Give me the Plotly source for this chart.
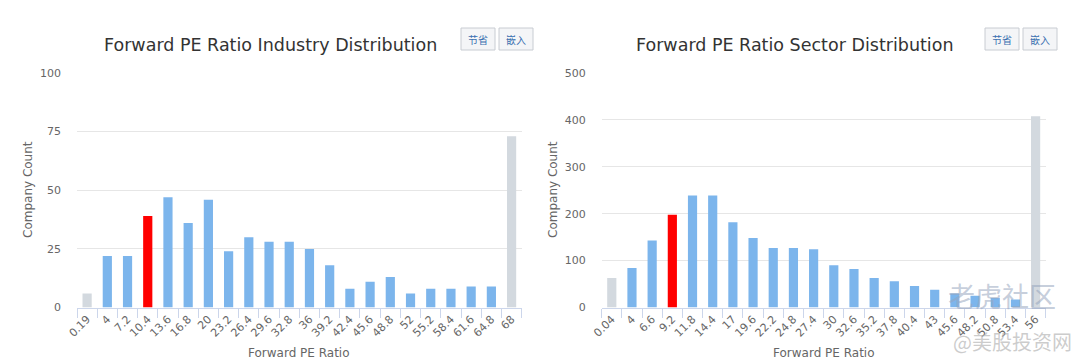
import plotly.graph_objects as go

# ---------------- data ----------------
industry_bins = ["0.19", "4", "7.2", "10.4", "13.6", "16.8", "20", "23.2", "26.4", "29.6", "32.8",
                 "36", "39.2", "42.4", "45.6", "48.8", "52", "55.2", "58.4", "61.6", "64.8", "68"]
industry_counts = [6, 22, 22, 39, 47, 36, 46, 24, 30, 28, 28, 25, 18, 8, 11, 13, 6, 8, 8, 9, 9, 73]
industry_highlight = "10.4"

sector_bins = ["0.04", "4", "6.6", "9.2", "11.8", "14.4", "17", "19.6", "22.2", "24.8", "27.4",
               "30", "32.6", "35.2", "37.8", "40.4", "43", "45.6", "48.2", "50.8", "53.4", "56"]
sector_counts = [63, 84, 143, 198, 239, 239, 182, 148, 127, 127, 124, 90, 82, 63, 56, 46, 38, 30, 25,
                 20, 17, 408]
sector_highlight = "9.2"

industry_ticks = [0, 25, 50, 75, 100]
sector_ticks = [0, 100, 200, 300, 400, 500]

titles = ["Forward PE Ratio Industry Distribution", "Forward PE Ratio Sector Distribution"]
x_title = "Forward PE Ratio"
y_title = "Company Count"
buttons = ["节省", "嵌入"]

# ---------------- styling ----------------
BLUE = "#7cb5ec"
RED = "#ff0000"
GRAY = "#d3d9df"
FONT = "DejaVu Sans"
W, H = 1080, 362
OFF = 8  # page body margin


def colors_for(bins, highlight):
    cols = []
    for i, b in enumerate(bins):
        if i == 0 or i == len(bins) - 1:
            cols.append(GRAY)
        elif b == highlight:
            cols.append(RED)
        else:
            cols.append(BLUE)
    return cols


def px(x):
    return (x - OFF) / W


def py(y):
    return 1 - (y - OFF) / H


fig = go.Figure()
fig.add_trace(go.Bar(x=industry_bins, y=industry_counts, marker_color=colors_for(industry_bins, industry_highlight),
                     marker_line_width=0, xaxis="x", yaxis="y", showlegend=False))
fig.add_trace(go.Bar(x=sector_bins, y=sector_counts, marker_color=colors_for(sector_bins, sector_highlight),
                     marker_line_width=0, xaxis="x2", yaxis="y2", showlegend=False))

plot_top, plot_bot = 73, 307.5
doms = [(77, 521.7), (601.7, 1045.7)]

xcommon = dict(type="category", tickangle=-45, ticks="outside", tickson="boundaries", ticklen=9,
               tickcolor="#ccd6eb", showline=True, linecolor="#ccd6eb", linewidth=1, showgrid=False,
               tickfont=dict(family=FONT, size=11, color="#666666"), zeroline=False, fixedrange=True,
               automargin=False)
ycommon = dict(showgrid=True, gridcolor="#e6e6e6", gridwidth=1, zeroline=False, showline=False,
               tickfont=dict(family=FONT, size=11, color="#666666"), ticks="", fixedrange=True,
               automargin=False, ticklabelstandoff=15)

fig.update_layout(
    template="none",
    width=W, height=H, margin=dict(l=0, r=0, t=0, b=0, pad=0),
    paper_bgcolor="white", plot_bgcolor="white", bargap=0.545,
    xaxis=dict(domain=[px(doms[0][0]), px(doms[0][1])], anchor="y", range=[-0.5, 21.5], **xcommon),
    xaxis2=dict(domain=[px(doms[1][0]), px(doms[1][1])], anchor="y2", range=[-0.5, 21.5], **xcommon),
    yaxis=dict(domain=[py(plot_bot), py(plot_top)], anchor="x", range=[0, 100], tickvals=industry_ticks, **ycommon),
    yaxis2=dict(domain=[py(plot_bot), py(plot_top)], anchor="x2", range=[0, 500], tickvals=sector_ticks, **ycommon),
    font=dict(family=FONT),
)

ann = []
title_cx = [270, 794.5]
for i in range(2):
    ann.append(dict(text=titles[i], x=px(title_cx[i]), y=py(45), xref="paper", yref="paper",
                    showarrow=False, xanchor="center", yanchor="middle",
                    font=dict(family=FONT, size=17.5, color="#333333")))
    cx = (doms[i][0] + doms[i][1]) / 2
    ann.append(dict(text=x_title, x=px(cx), y=py(353), xref="paper", yref="paper", showarrow=False,
                    xanchor="center", yanchor="middle", font=dict(family=FONT, size=12, color="#666666")))
    ann.append(dict(text=y_title, x=px(28 + 525 * i), y=py(190), xref="paper", yref="paper", showarrow=False,
                    textangle=-90, xanchor="center", yanchor="middle",
                    font=dict(family=FONT, size=12, color="#666666")))

# buttons
btn_pos = [[(461, 495), (499, 533)], [(985, 1019), (1023, 1057)]]
shapes = []
for i in range(2):
    for j, (x0, x1) in enumerate(btn_pos[i]):
        shapes.append(dict(type="rect", xref="paper", yref="paper", x0=px(x0), x1=px(x1), y0=py(50), y1=py(28),
                           line=dict(color="#c8ccd2", width=1), fillcolor="#f4f5f7"))
        ann.append(dict(text=buttons[j], x=px((x0 + x1) / 2), y=py(39), xref="paper", yref="paper",
                        showarrow=False, xanchor="center", yanchor="middle",
                        font=dict(family="Noto Sans CJK SC", size=10, color="#3a6fb0")))

# watermark
ann.append(dict(text="老虎社区", x=px(1002), y=py(295), xref="paper", yref="paper", showarrow=False,
                xanchor="center", yanchor="middle",
                font=dict(family="Noto Sans CJK SC", size=27, color="rgba(150,165,190,0.55)")))
ann.append(dict(text="@美股投资网", x=px(1012), y=py(341), xref="paper", yref="paper", showarrow=False,
                xanchor="center", yanchor="middle",
                font=dict(family="Noto Sans CJK SC", size=20, color="rgba(170,170,170,0.6)")))

fig.update_layout(annotations=ann, shapes=shapes)
fig.write_html("out.html")
